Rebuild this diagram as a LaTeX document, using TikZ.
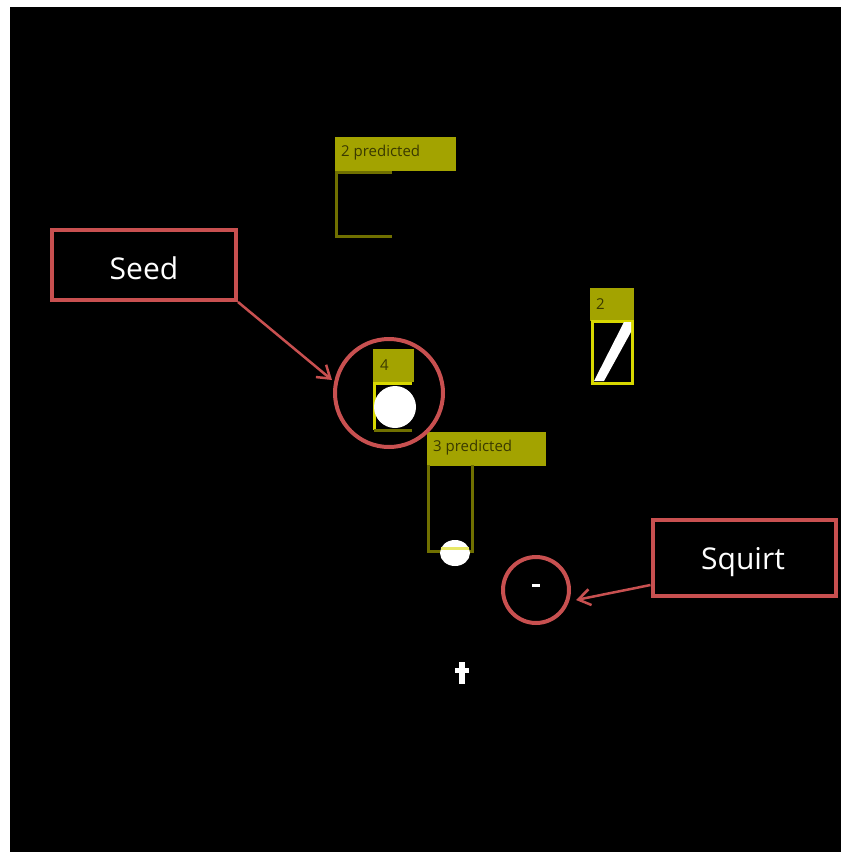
\documentclass[tikz,border=0pt]{standalone}
\usepackage{fontspec}
\setmainfont{Open Sans}
\usetikzlibrary{arrows.meta}
\definecolor{annot}{HTML}{C85050}
\definecolor{olivefill}{HTML}{A3A300}
\definecolor{olivetext}{HTML}{3A3A00}
\definecolor{oliveline}{HTML}{707000}
\definecolor{yellowline}{HTML}{D8D800}
\tikzset{
  tag/.style={fill=olivefill, draw=olivefill, inner sep=0pt, anchor=north west},
  tagtext/.style={text=olivetext, font=\fontsize{15}{15}\selectfont, inner sep=0pt, anchor=west},
  calloutbox/.style={draw=annot, line width=4pt, inner sep=0pt},
  callouttext/.style={text=white, font=\fontsize{30}{30}\selectfont, inner sep=0pt},
  ring/.style={draw=annot, line width=4pt},
  callarrow/.style={draw=annot, line width=2.5pt, -{Straight Barb[length=12pt,width=16pt,line width=2.5pt]}},
}
\begin{document}
\begin{tikzpicture}[x=1pt,y=-1pt]
\fill[white] (0,0) rectangle (841,852);
\fill[black] (10,7) rectangle (841,852);
\useasboundingbox (0,0) rectangle (841,852);

% 2 predicted
\node[tag, minimum width=120pt, minimum height=33pt] (t2p) at (335,137) {};
\node[tagtext] (t2ptext) at (341,153) {2 predicted};
\draw[oliveline, line width=3pt] (392,172) -- (336,172) -- (336,236) -- (392,236);

% 2 box
\node[tag, minimum width=43pt, minimum height=32pt] (t2) at (590,288) {};
\node[tagtext] (t2text) at (596,304) {2};
\draw[yellowline, line width=3pt] (592,321) rectangle (632,383);
\fill[white] (594,381) -- (604,381) -- (631,332) -- (631,322) -- (624,322) -- cycle;

% 4 box
\node[tag, minimum width=40pt, minimum height=32pt] (t4) at (373,349) {};
\node[tagtext] (t4text) at (380,365) {4};
\draw[yellowline, line width=3pt] (374,382) -- (374,430);
\draw[yellowline, line width=3pt] (374,383) -- (412,383);
\draw[oliveline, line width=3pt] (374,430) -- (412,430);
\fill[white] (395,407) circle (21);

% 3 predicted
\node[tag, minimum width=118pt, minimum height=33pt] (t3p) at (427,432) {};
\node[tagtext] (t3ptext) at (433,448) {3 predicted};
\draw[oliveline, line width=3pt] (428,465) -- (428,551) -- (472,551) -- (472,465);
\fill[white] (455,553) ellipse (15 and 13);
\draw[yellowline!60!white, line width=3pt] (441,548) -- (469,548);

% squirt dot and cross
\fill[white] (532,584) rectangle (540,587);
\fill[white] (459,662) rectangle (465,684);
\fill[white] (455,668) rectangle (469,673);

% annotations
\node[calloutbox, minimum width=184pt, minimum height=70pt] (seed) at (144,265) {};
\node[callouttext] (seedtext) at (144,268) {Seed};
\draw[ring] (389,393) circle (54);
\coordinate (seedtip) at (332,380);
\draw[callarrow] (seed.south east) -- (seedtip);

\node[calloutbox, minimum width=183pt, minimum height=76pt] (squirt) at (744,558) {};
\node[callouttext] (squirttext) at (743,562) {Squirt};
\draw[ring] (536,590) circle (33);
\coordinate (squirttip) at (576,600);
\draw[callarrow] (squirt.west |- 0,585) -- (squirttip);
\end{tikzpicture}
\end{document}
